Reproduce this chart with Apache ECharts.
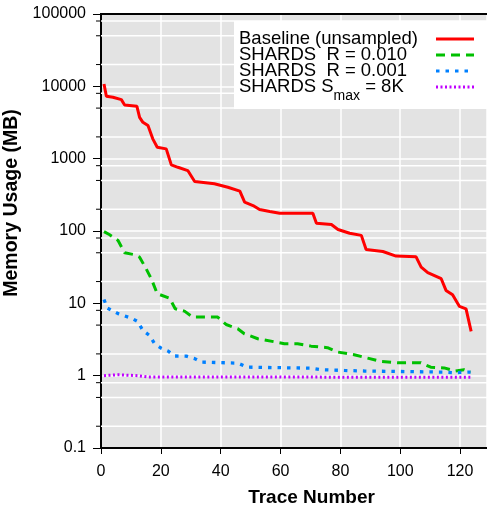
<!DOCTYPE html>
<html><head><meta charset="utf-8">
<script src="https://cdn.jsdelivr.net/npm/echarts@6/dist/echarts.min.js"></script>
<style>html,body{margin:0;padding:0;background:#fff}#c{width:487px;height:508px}</style>
</head><body><div id="c"></div>
<script>
// ---- data (trace number, memory usage in MB) ----
const seriesNames = ['Baseline (unsampled)', 'SHARDS  R = 0.010', 'SHARDS  R = 0.001', 'SHARDS Smax = 8K'];
const baselineData = [[1,10800],[1.8,7280],[4,7050],[6.8,6550],[7.9,5530],[12,5300],[12.9,3730],[14,3180],[15.7,2870],[17.3,1880],[18.8,1440],[21.8,1365],[23.5,820],[25.7,760],[29,685],[31.3,483],[37.9,449],[42.4,403],[46.4,355],[48,250],[50.8,225],[53,198],[56.4,186],[59.7,176],[70.8,176],[72,128],[77,123],[79.2,105],[83.1,93],[87,87],[88.6,55.5],[94.2,52],[98.6,45],[105.3,44],[107,31.6],[109.2,26.5],[113.7,21.9],[115.3,15.1],[117.5,13.1],[119.8,9.06],[122,8.4],[123.7,4.1]];
const r010Data = [[1,98],[2.9,88.7],[5.7,74],[7.9,50],[11.2,47],[12.9,43.5],[15.1,30],[16.8,21.9],[18.8,13.6],[22.9,11.8],[24.8,8.4],[27.9,7.8],[30.7,6.45],[39,6.45],[41.8,5.1],[45.7,4.46],[47.9,3.8],[52.4,3.24],[61.3,2.77],[65.7,2.77],[70.2,2.56],[75.7,2.44],[79.1,2.12],[84.6,1.95],[89.1,1.75],[93.5,1.57],[99.1,1.51],[106.9,1.51],[110.2,1.31],[114.7,1.28],[118.5,1.16],[121.3,1.21],[123.5,1.12]];
const r001Data = [[1,11.3],[2.1,8.6],[5.7,7.2],[10.1,6.25],[12.3,5.6],[14,4.2],[16.2,3.6],[17.9,2.77],[20.1,2.4],[22.4,2.19],[24.6,1.87],[28.5,1.86],[31.3,1.72],[33.5,1.54],[45.7,1.49],[49,1.31],[70.2,1.27],[73.5,1.21],[81.3,1.18],[88,1.16],[114.7,1.12],[118,1.1],[123.5,1.12]];
const smaxData = [[1,1.0],[5.7,1.03],[12.3,1.0],[15.7,0.96],[123.5,0.95]];
const yMinorTicks = [0.2,0.5,0.8,2,5,8,20,50,80,200,500,800,2000,5000,8000,20000,50000,80000];

const FONT = "'Liberation Sans', Arial, Helvetica, sans-serif";
const X_MIN = 0, X_MAX = 129;
const legendLabels = {
  'Baseline (unsampled)': '{n|Baseline (unsampled)}',
  'SHARDS  R = 0.010': '{n|SHARDS  R = 0.010}',
  'SHARDS  R = 0.001': '{n|SHARDS  R = 0.001}',
  'SHARDS Smax = 8K': '{n|SHARDS S}{s|max}{n| = 8K}'
};

const chart = echarts.init(document.getElementById('c'), null, {renderer: 'canvas'});
const yLabelFmt = v => String(Number(Number(v).toPrecision(6)));

chart.setOption({
  animation: false,
  grid: {left: 101, top: 14, right: 0, bottom: 60, show: true, backgroundColor: '#e3e3e3', borderWidth: 0,
         outerBoundsMode: 'none'},
  xAxis: {
    type: 'value', min: X_MIN, max: X_MAX, interval: 20,
    axisLine: {lineStyle: {color: '#000', width: 2}},
    axisTick: {length: 6, lineStyle: {color: '#000', width: 1}},
    axisLabel: {fontSize: 16, color: '#000', margin: 16, showMaxLabel: false, fontFamily: FONT},
    splitLine: {lineStyle: {color: '#fff', width: 1.5}},
    name: 'Trace Number', nameLocation: 'middle', nameGap: 40,
    nameTextStyle: {fontWeight: 'bold', fontSize: 19, color: '#000', fontFamily: FONT, padding: [0, 0, 0, 35]}
  },
  yAxis: {
    type: 'log', logBase: 10, min: 0.1, max: 100000,
    axisLine: {show: true, lineStyle: {color: '#000', width: 2}},
    axisTick: {show: true, length: 8, lineStyle: {color: '#000', width: 1}},
    axisLabel: {fontSize: 16, color: '#000', margin: 15, formatter: yLabelFmt, fontFamily: FONT},
    splitLine: {show: true, lineStyle: {color: '#fff', width: 1.5}},
    name: 'Memory Usage (MB)', nameLocation: 'middle', nameGap: 72,
    nameTextStyle: {fontWeight: 'bold', fontSize: 19.5, color: '#000', fontFamily: FONT, padding: [0, 0, 0, 56]}
  },
  legend: {
    orient: 'vertical', left: 234, top: 21, align: 'right',
    backgroundColor: '#fff', padding: [8.5, 40, 6, 5], itemGap: -3,
    itemWidth: 38, itemHeight: 14,
    lineStyle: {width: 3},
    itemStyle: {opacity: 0, color: 'rgba(0,0,0,0)', borderWidth: 0},
    data: seriesNames,
    formatter: name => legendLabels[name],
    textStyle: {
      fontSize: 18.5, color: '#000', fontFamily: FONT, width: 192,
      rich: {
        n: {align: 'left', fontSize: 18.5, fontFamily: FONT, color: '#000'},
        s: {align: 'left', fontSize: 14, fontFamily: FONT, color: '#000', height: 1, verticalAlign: 'bottom'}
      }
    }
  },
  series: [
    {name: seriesNames[0], type: 'line', data: baselineData, symbol: 'none', color: '#ff0000',
     lineStyle: {color: '#ff0000', width: 3}, z: 3},
    {name: seriesNames[1], type: 'line', data: r010Data, symbol: 'none', color: '#00c000',
     lineStyle: {color: '#00c000', width: 3, type: [9, 6]}, z: 4},
    {name: seriesNames[2], type: 'line', data: r001Data, symbol: 'none', color: '#0080ff',
     lineStyle: {color: '#0080ff', width: 3.3, type: [3.5, 6]}, z: 5},
    {name: seriesNames[3], type: 'line', data: smaxData, symbol: 'none', color: '#c000ff',
     lineStyle: {color: '#c000ff', width: 3, type: [2, 2.5]}, z: 6}
  ]
});

// minor grid lines and minor ticks at 2, 5, 8 x each decade, positioned through the log axis;
// plus the top border line of the plot frame
const gridRect = chart.getModel().getComponent('grid', 0).coordinateSystem.getRect();
const extraElems = [];
yMinorTicks.forEach(v => {
  const y = chart.convertToPixel({yAxisIndex: 0}, v);
  extraElems.push({type: 'line', z: 1, silent: true,
    shape: {x1: gridRect.x, y1: y, x2: gridRect.x + gridRect.width, y2: y},
    style: {stroke: '#fff', lineWidth: 1.5}});
  extraElems.push({type: 'line', z: 1, silent: true,
    shape: {x1: gridRect.x - 5, y1: y, x2: gridRect.x - 1, y2: y},
    style: {stroke: '#000', lineWidth: 1}});
});
extraElems.push({type: 'line', z: 1, silent: true,
  shape: {x1: gridRect.x - 1, y1: gridRect.y, x2: gridRect.x + gridRect.width, y2: gridRect.y},
  style: {stroke: '#000', lineWidth: 2}});
chart.setOption({graphic: {elements: extraElems}});
</script></body></html>
